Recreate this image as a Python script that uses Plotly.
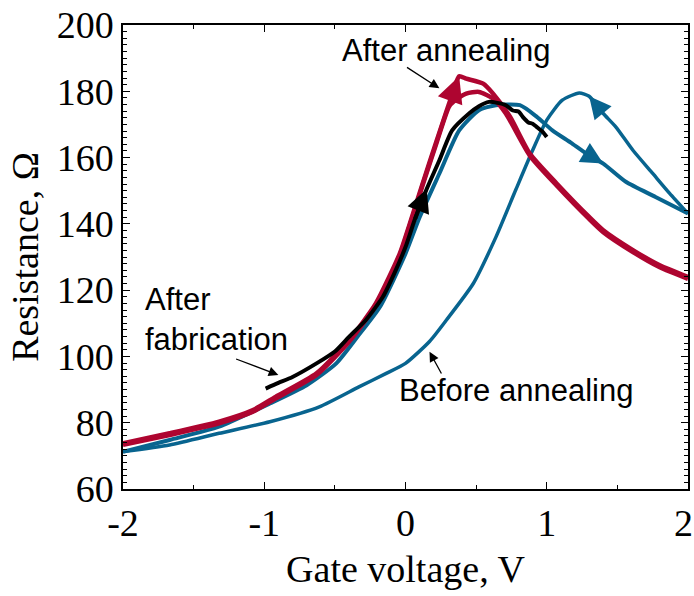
import plotly.graph_objects as go

# ---- data ----
red_fwd_x = [-2.0, -1.67, -1.32, -1.08, -0.92, -0.63, -0.40, -0.21, -0.04, 0.03, 0.12, 0.22, 0.31, 0.38, 0.43, 0.55, 0.62, 0.74, 0.88, 1.07, 1.30, 1.40, 1.61, 1.80, 2.0]
red_fwd_y = [73.8, 76.8, 80.3, 83.8, 87.8, 94.9, 104.9, 116.0, 131.1, 140.0, 152.0, 165.0, 176.5, 184.5, 183.8, 182.3, 179.3, 172.3, 161.2, 152.2, 142.1, 138.1, 132.1, 127.5, 124.0]

red_back_x = [2.0, 1.80, 1.61, 1.40, 1.30, 1.07, 0.88, 0.71, 0.62, 0.52, 0.43, 0.36, 0.31, 0.22, 0.12, 0.03, -0.04, -0.21, -0.40, -0.63, -0.92, -1.08, -1.32, -1.67, -2.0]
red_back_y = [123.4, 126.9, 131.5, 137.5, 141.5, 151.6, 160.6, 173.3, 177.8, 179.8, 179.3, 177.5, 175.5, 164.5, 151.5, 139.5, 130.6, 115.5, 104.4, 94.4, 87.3, 83.3, 79.8, 76.3, 73.3]

black_x = [-0.99, -0.90, -0.80, -0.63, -0.50, -0.40, -0.28, -0.16, -0.08, 0.0, 0.064, 0.15, 0.24, 0.33, 0.45, 0.52, 0.59, 0.65, 0.71, 0.76, 0.80, 0.83, 0.87, 0.90, 0.93, 0.97, 1.0]
black_y = [90.3, 92.0, 93.8, 97.9, 101.5, 105.9, 111.0, 118.0, 125.0, 133.0, 141.1, 150.5, 159.2, 168.2, 173.3, 175.5, 176.8, 176.5, 175.8, 174.2, 173.9, 172.3, 170.6, 170.2, 169.2, 167.8, 166.2]

blue_fwd_x = [-2.0, -1.67, -1.32, -0.96, -0.70, -0.49, -0.33, -0.18, 0.0, 0.10, 0.24, 0.38, 0.52, 0.64, 0.81, 0.93, 1.04, 1.17, 1.28, 1.40, 1.56, 1.77, 2.0]
blue_fwd_y = [71.2, 74.8, 78.8, 85.8, 91.3, 97.9, 106.5, 115.0, 131.0, 142.0, 155.2, 168.2, 174.3, 175.8, 175.8, 172.3, 168.2, 164.5, 161.2, 158.2, 152.7, 148.1, 143.1]

blue_back_x = [2.0, 1.87, 1.75, 1.61, 1.49, 1.40, 1.30, 1.23, 1.11, 1.0, 0.90, 0.78, 0.64, 0.48, 0.29, 0.17, 0.0, -0.14, -0.33, -0.61, -0.96, -1.32, -1.67, -2.0]
blue_back_y = [143.1, 149.2, 155.2, 162.2, 169.2, 173.3, 178.5, 179.5, 177.3, 171.3, 162.2, 150.2, 136.0, 122.0, 111.0, 104.5, 97.9, 94.8, 90.8, 84.8, 80.3, 76.8, 73.3, 71.3]

x_tickvals = [-2, -1, 0, 1, 2]
x_ticktext = ["-2", "-1", "0", "1", "2"]
y_tickvals = [60, 80, 100, 120, 140, 160, 180, 200]
y_ticktext = ["60", "80", "100", "120", "140", "160", "180", "200"]

# direction arrows on curves: index of the arrow head in each series
red_arrow_idx = 13
black_arrow_idx = 11
blue_fwd_arrow_idx = 19
blue_back_arrow_idx = 6

RED = "#AE0530"
BLUE = "#08648F"
BLACK = "#000000"

fig = go.Figure()


def add(x, y, color, width):
    fig.add_trace(go.Scatter(x=x, y=y, mode="lines",
                             line=dict(color=color, width=width, shape="spline", smoothing=0.6),
                             showlegend=False, hoverinfo="skip"))


add(blue_back_x, blue_back_y, BLUE, 3.5)
add(blue_fwd_x, blue_fwd_y, BLUE, 4)
add(red_back_x, red_back_y, RED, 4.5)
add(red_fwd_x, red_fwd_y, RED, 4.5)
add(black_x, black_y, BLACK, 4)


def dir_arrow(x, y, i, color, size):
    return dict(x=x[i], y=y[i], ax=x[i - 1], ay=y[i - 1], axref="x", ayref="y",
                xref="x", yref="y", text="", showarrow=True, arrowhead=2,
                arrowsize=size, arrowwidth=4, arrowcolor=color, standoff=0, startstandoff=0)


tick_font = dict(family="Liberation Serif, Times New Roman", size=38, color="black")
ann_font = dict(family="Liberation Sans, Arial", size=31, color="black")

# last x tick label drawn right-aligned so it stays inside the page
shown_x_ticktext = x_ticktext[:-1] + [""]

annotations = [
    dir_arrow(red_fwd_x, red_fwd_y, red_arrow_idx, RED, 1.3),
    dir_arrow(black_x, black_y, black_arrow_idx, BLACK, 1.15),
    dir_arrow(blue_fwd_x, blue_fwd_y, blue_fwd_arrow_idx, BLUE, 1.1),
    dir_arrow(blue_back_x, blue_back_y, blue_back_arrow_idx, BLUE, 1.1),
    dict(x=x_tickvals[-1], xref="x", y=0, yref="paper", text=x_ticktext[-1],
         showarrow=False, font=tick_font, xanchor="right", yanchor="middle",
         xshift=7, yshift=-34),
    dict(x=0.29, y=192.4, text="After annealing", showarrow=False, font=ann_font),
    dict(x=0.24, y=180.9, ax=0.0, ay=187.5, axref="x", ayref="y", text="",
         showarrow=True, arrowhead=2, arrowsize=1.5, arrowwidth=1.3, arrowcolor="black"),
    dict(x=-1.86, y=111.2, text="After<br>fabrication", showarrow=False, font=ann_font,
         xanchor="left", align="left"),
    dict(x=-0.90, y=94.4, ax=-1.21, ay=99.4, axref="x", ayref="y", text="",
         showarrow=True, arrowhead=2, arrowsize=1.5, arrowwidth=1.3, arrowcolor="black"),
    dict(x=0.78, y=89.8, text="Before annealing", showarrow=False, font=ann_font),
    dict(x=0.17, y=101.4, ax=0.26, ay=94.4, axref="x", ayref="y", text="",
         showarrow=True, arrowhead=2, arrowsize=1.5, arrowwidth=1.3, arrowcolor="black"),
]

fig.update_layout(
    width=694, height=596,
    margin=dict(l=123, r=6, t=25, b=107, autoexpand=False),
    paper_bgcolor="white", plot_bgcolor="white",
    annotations=annotations,
    font=dict(family="Liberation Serif", color="black"),
)
fig.update_xaxes(
    range=[-2, 2], tickmode="array", tickvals=x_tickvals, ticktext=shown_x_ticktext,
    ticks="inside", ticklen=7, tickwidth=1.2, tickcolor="black",
    minor=dict(dtick=0.5, tick0=0, ticks="inside", ticklen=4, tickwidth=1, tickcolor="black"),
    showline=True, linecolor="black", linewidth=1.5, mirror="ticks",
    showgrid=False, zeroline=False, tickfont=tick_font, ticklabeloverflow="allow",
    automargin=False,
    title=dict(text="Gate voltage, V", font=tick_font, standoff=12),
)
fig.update_yaxes(
    range=[60, 200], tickmode="array", tickvals=y_tickvals, ticktext=y_ticktext,
    ticks="inside", ticklen=7, tickwidth=1.2, tickcolor="black",
    minor=dict(dtick=2, tick0=0, ticks="inside", ticklen=4, tickwidth=1, tickcolor="black"),
    showline=True, linecolor="black", linewidth=1.5, mirror="ticks",
    showgrid=False, zeroline=False, tickfont=tick_font, ticklabeloverflow="allow",
    automargin=False,
    title=dict(text="Resistance, Ω", font=tick_font, standoff=6),
)

fig.write_html("out.html")
